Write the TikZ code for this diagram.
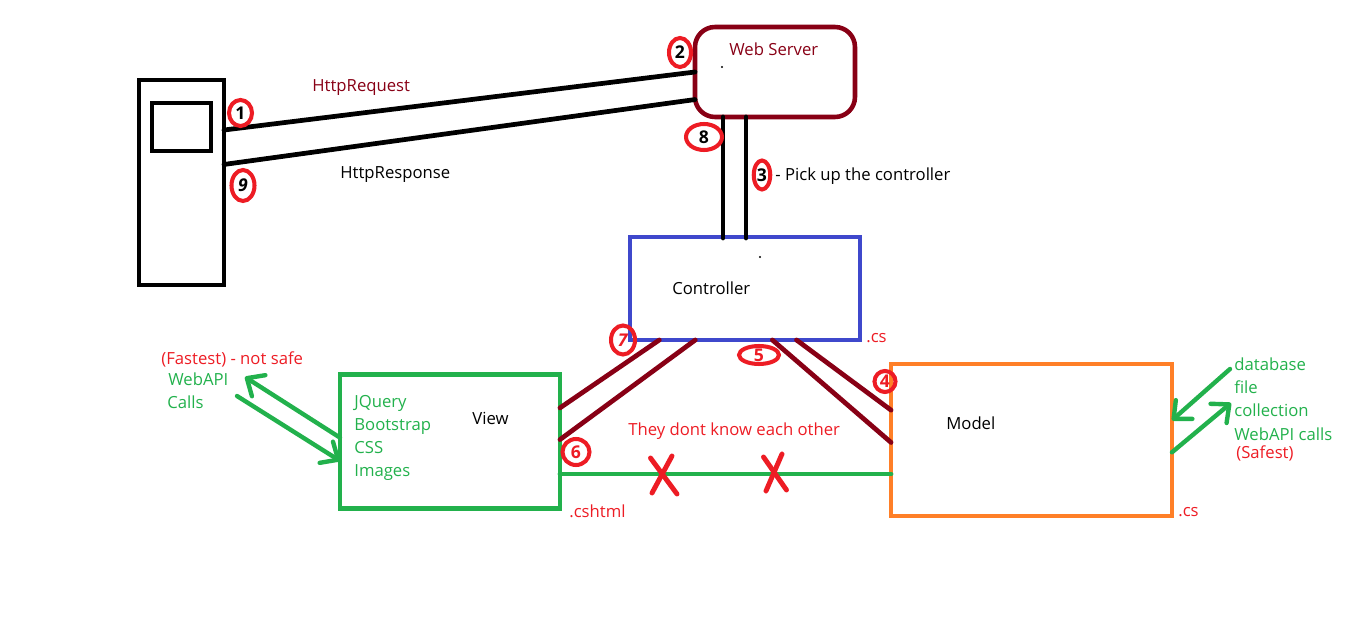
\documentclass[tikz,border=0pt]{standalone}
\usepackage{fontspec}
\setmainfont{Open Sans}
\usepackage{xcolor}
\usetikzlibrary{shapes.geometric,arrows.meta}
\definecolor{paintmaroon}{HTML}{880015}
\definecolor{paintred}{HTML}{ED1C24}
\definecolor{paintgreen}{HTML}{22B14C}
\definecolor{paintorange}{HTML}{FF7F27}
\definecolor{paintblue}{HTML}{3F48CC}
\tikzset{
	box/.style={draw, line width=2.6pt, rectangle, inner sep=0pt, outer sep=0pt},
	wire/.style={line width=2.7pt, line cap=round},
	crosswire/.style={wire, line width=2.8pt, paintred},
	barb/.style={wire, line width=2.5pt, paintgreen, -{Straight Barb[length=0.28cm, width=0.5cm, round]}},
	numring/.style={draw=paintred, line width=2.3pt, ellipse, inner sep=0pt, font=\fontsize{10}{10}\selectfont},
	lbl/.style={anchor=base west, inner sep=0pt, font=\fontsize{9.5}{10}\selectfont},
	speck/.style={circle, fill=black, inner sep=0pt, minimum size=1.2pt}
}
\begin{document}
\begin{tikzpicture}[x=0.02cm, y=-0.02cm]
					\useasboundingbox (0,0) rectangle (1360,628);
					
					\node[box, minimum width=1.7cm, minimum height=4.1cm] (client) at (181.5,182.5) {};
					\node[box, minimum width=1.18cm, minimum height=0.96cm] (screen) at (181.5,127) {};
					\node[box, draw=paintmaroon, rounded corners=0.4cm, minimum width=3.2cm, minimum height=1.8cm] (server) at (775,72) {};
					\node[box, draw=paintblue, minimum width=4.6cm, minimum height=2.06cm] (controller) at (745,288.5) {};
					\node[box, draw=paintgreen, minimum width=4.4cm, minimum height=2.68cm] (view) at (450,441.5) {};
					\node[box, draw=paintorange, minimum width=5.62cm, minimum height=3.04cm] (model) at (1031.5,440) {};
					
					\coordinate (dropa) at (723,238);
					\coordinate (dropb) at (746,238);
					\coordinate (nolink) at (720,474);
					\draw[wire] (client.51) -- (server.180);
					\draw[wire] (client.23.5) -- (server.199.3);
					\draw[wire] (dropa |- server.south) -- (dropa);
					\draw[wire] (dropb |- server.south) -- (dropb);
					
					\draw[wire, paintmaroon] (controller.211.3) -- (view.17.4);
					\draw[wire, paintmaroon] (controller.226.7) -- (view.1);
					\draw[wire, paintmaroon] (controller.298) -- (model.181);
					\draw[wire, paintmaroon] (controller.315.6) -- (model.168);
					\draw[wire, paintgreen] (view.east |- nolink) -- (model.west |- nolink);
					
					\coordinate (webapiout) at (245,377);
					\coordinate (webapiin) at (237,396);
					\coordinate (storeout) at (1230,369);
					\coordinate (storein) at (1231,403);
					\draw[barb] (view.178) -- (webapiout);
					\draw[barb] (webapiin) -- (view.190.6);
					\draw[barb] (storeout) -- (model.8.9);
					\draw[barb] (model.355.1) -- (storein);
					
					\draw[crosswire] (650.5,458) -- (677,494);
					\draw[crosswire] (672,456) -- (652,493);
					\draw[crosswire] (763.5,457) -- (786.5,490);
					\draw[crosswire] (782,454) -- (766,491);
					
					\node[numring, minimum width=0.46cm, minimum height=0.52cm] (n1) at (240.5,113) {\textbf{1}};
					\node[numring, minimum width=0.44cm, minimum height=0.58cm] (n2) at (680,52.5) {\textbf{2}};
					\node[numring, minimum width=0.33cm, minimum height=0.58cm] (n3) at (762,175) {\textbf{3}};
					\node[numring, text=paintred, minimum width=0.42cm, minimum height=0.42cm] (n4) at (885,381.5) {\textbf{4}};
					\node[numring, text=paintred, minimum width=0.8cm, minimum height=0.32cm] (n5) at (759,355) {\textbf{5}};
					\node[numring, text=paintred, minimum width=0.54cm, minimum height=0.52cm] (n6) at (576,452) {\textbf{6}};
					\node[numring, text=paintred, minimum width=0.48cm, minimum height=0.58cm] (n7) at (623,340) {\textit{\textbf{7}}};
					\node[numring, minimum width=0.72cm, minimum height=0.52cm] (n8) at (704,137) {\textbf{8}};
					\node[numring, minimum width=0.46cm, minimum height=0.62cm] (n9) at (243,185.5) {\textit{\textbf{9}}};
					
					\node[lbl, text=paintmaroon] (requestlbl) at (312,92) {HttpRequest};
					\node[lbl] (responselbl) at (340,179) {HttpResponse};
					\node[lbl, text=paintmaroon] (serverlbl) at (729,56) {Web Server};
					\node[lbl] (pickuplbl) at (775,181) {- Pick up the controller};
					\node[lbl] (controllerlbl) at (672,295) {Controller};
					\node[lbl, text=paintred] (cslbla) at (866,343) {.cs};
					\node[lbl, text=paintred] (fastlbl) at (161,365) {(Fastest) - not safe};
					\node[lbl, text=paintgreen] (webapilbl) at (168,385) {WebAPI};
					\node[lbl, text=paintgreen] (callslbl) at (167,408) {Calls};
					\node[lbl, text=paintgreen] (jquerylbl) at (354,407) {JQuery};
					\node[lbl, text=paintgreen] (bootlbl) at (354,430) {Bootstrap};
					\node[lbl, text=paintgreen] (csslbl) at (354,453) {CSS};
					\node[lbl, text=paintgreen] (imageslbl) at (354,476) {Images};
					\node[lbl] (viewlbl) at (472,424) {View};
					\node[lbl, text=paintred] (cshtmllbl) at (569,517) {.cshtml};
					\node[lbl, text=paintred] (eachlbl) at (628,436) {They dont know each other};
					\node[lbl] (modellbl) at (946,429) {Model};
					\node[lbl, text=paintred] (cslblb) at (1178,516) {.cs};
					\node[lbl, text=paintgreen] (dblbl) at (1234,371) {database};
					\node[lbl, text=paintgreen] (filelbl) at (1234,394) {file};
					\node[lbl, text=paintgreen] (collbl) at (1234,417) {collection};
					\node[lbl, text=paintgreen] (calllbl) at (1234,440) {WebAPI calls};
					\node[lbl, text=paintred] (safelbl) at (1236,459) {(Safest)};
					
					\node[speck] (specka) at (722,67) {};
					\node[speck] (speckb) at (760,257) {};
				\end{tikzpicture}
\end{document}
